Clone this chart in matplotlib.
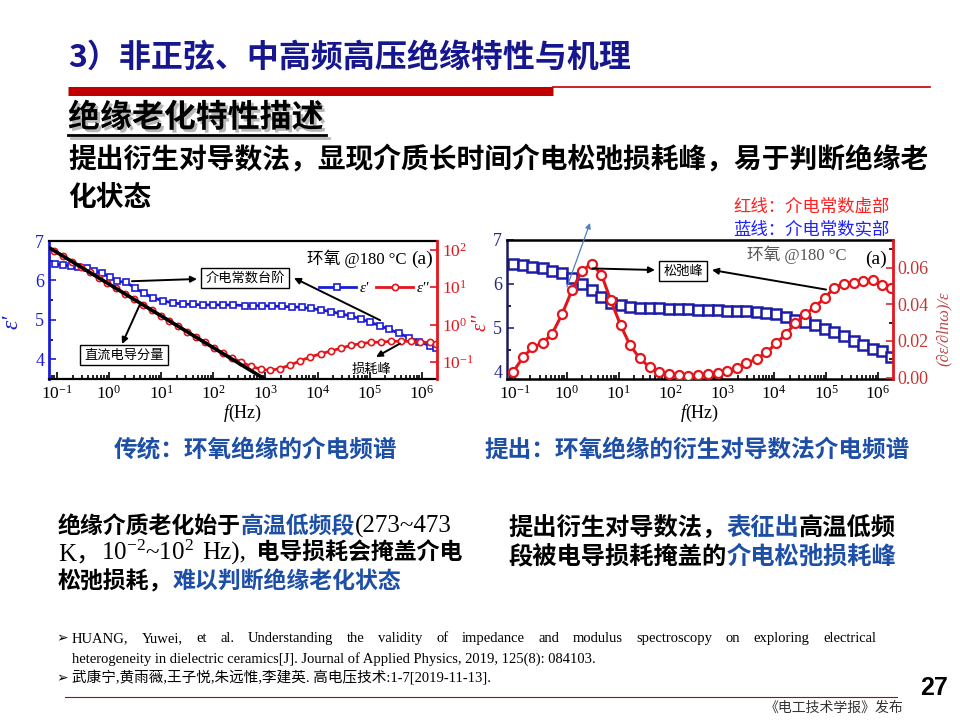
import numpy as np
import matplotlib
matplotlib.use('Agg')
import matplotlib.pyplot as plt
import matplotlib.patheffects as pe
from matplotlib.lines import Line2D
from matplotlib.ticker import (LogLocator, AutoMinorLocator, FormatStrFormatter, NullFormatter,
                               MultipleLocator, FixedLocator)

plt.rcParams['font.family'] = ['Liberation Serif', 'Noto Sans CJK SC']
plt.rcParams['mathtext.fontset'] = 'custom'
plt.rcParams['mathtext.rm'] = 'Liberation Serif'
plt.rcParams['mathtext.it'] = 'Liberation Serif:italic'
plt.rcParams['mathtext.bf'] = 'Liberation Serif:bold'

# ---- left chart: classic dielectric spectrum (log10 of f in Hz) ----
lg_f_re_a = [-1.03, -0.88, -0.72, -0.59, -0.43, -0.28, -0.14, 0.02, 0.16, 0.33, 0.50,
             0.67, 0.85, 1.04, 1.23, 1.41, 1.62, 1.81, 2.00, 2.19, 2.38, 2.60, 2.77,
             2.94, 3.12, 3.31, 3.50, 3.70, 3.87, 4.07, 4.26, 4.45, 4.64, 4.83, 5.01,
             5.20, 5.37, 5.56, 5.75, 5.95, 6.16, 6.28]
eps_re_a = [6.41, 6.39, 6.37, 6.33, 6.31, 6.24, 6.18, 6.09, 5.98, 5.95, 5.81, 5.67,
            5.56, 5.48, 5.43, 5.40, 5.39, 5.38, 5.38, 5.38, 5.38, 5.36, 5.36, 5.36,
            5.35, 5.34, 5.33, 5.32, 5.29, 5.25, 5.21, 5.15, 5.10, 5.02, 4.94, 4.85,
            4.76, 4.66, 4.55, 4.45, 4.34, 4.29]
lg_f_im_a = [-1.05, -0.88, -0.71, -0.54, -0.37, -0.20, -0.03, 0.14, 0.31, 0.48, 0.65,
             0.82, 0.99, 1.16, 1.33, 1.50, 1.67, 1.84, 2.01, 2.18, 2.35, 2.53, 2.72,
             2.92, 3.09, 3.28, 3.47, 3.66, 3.86, 4.07, 4.26, 4.45, 4.64, 4.83, 5.02,
             5.22, 5.41, 5.60, 5.79, 5.96, 6.16, 6.28]
eps_im_a = [95.5, 67.6, 49.0, 34.7, 25.1, 17.8, 12.9, 9.33, 6.61, 4.79, 3.39, 2.45,
            1.74, 1.26, 0.891, 0.646, 0.457, 0.331, 0.234, 0.170, 0.129, 0.100, 0.0759,
            0.0631, 0.0589, 0.0661, 0.0813, 0.105, 0.135, 0.166, 0.195, 0.234, 0.275,
            0.309, 0.331, 0.339, 0.355, 0.355, 0.355, 0.339, 0.331, 0.309]
dc_lg_f = [-1.18, 3.02]
dc_eps = [123.0, 0.0324]

# ---- right chart: derivative method ----
lg_f_b = [-1.03, -0.84, -0.66, -0.46, -0.28, -0.09, 0.10, 0.29, 0.48, 0.67, 0.85, 1.04,
          1.22, 1.41, 1.60, 1.78, 1.97, 2.16, 2.34, 2.53, 2.72, 2.91, 3.09, 3.28, 3.46,
          3.66, 3.85, 4.04, 4.22, 4.41, 4.60, 4.78, 4.97, 5.15, 5.34, 5.53, 5.72, 5.90,
          6.08, 6.25]
eps_re_b = [6.45, 6.43, 6.39, 6.36, 6.30, 6.24, 6.13, 5.99, 5.85, 5.71, 5.57, 5.52,
            5.48, 5.46, 5.45, 5.44, 5.43, 5.43, 5.43, 5.41, 5.41, 5.40, 5.39, 5.38,
            5.37, 5.35, 5.33, 5.31, 5.25, 5.18, 5.12, 5.06, 4.97, 4.90, 4.80, 4.70,
            4.61, 4.51, 4.46, 4.34]
eps_der_b = [0.0033, 0.0111, 0.0165, 0.0189, 0.0240, 0.0345, 0.0475, 0.0580, 0.0622,
             0.0562, 0.0422, 0.0286, 0.0178, 0.0105, 0.0057, 0.0033, 0.0020, 0.0015,
             0.0011, 0.0015, 0.0018, 0.0027, 0.0036, 0.0051, 0.0078, 0.0102, 0.0138,
             0.0187, 0.0238, 0.0296, 0.0346, 0.0386, 0.0432, 0.0489, 0.0513, 0.0516,
             0.0526, 0.0531, 0.0504, 0.0486]

decades = [1e-1, 1e0, 1e1, 1e2, 1e3, 1e4, 1e5, 1e6]

W, H = 960, 720
CJK = ['Noto Sans CJK SC', 'DejaVu Sans']
SERIF = ['Liberation Serif', 'Noto Sans CJK SC']
BLUE = '#1c1cd8'
RED = '#e3161c'
NAVY_T = '#16168f'
CAP_BLUE = '#1d4fa6'

fig = plt.figure(figsize=(9.6, 7.2), dpi=100)
R = fig.canvas.get_renderer()


def fp(x, y):
    return x / W, 1 - y / H


def run_line(x, y, parts):
    # parts: (text, colour, family, weight, size); y is the baseline in px
    for s, c, fam, wt, sz in parts:
        t = fig.text(*fp(x, y), s, color=c, family=fam, weight=wt, fontsize=sz,
                     va='baseline', ha='left')
        x += t.get_window_extent(R).width
    return x


def justify(words, x0, x1, y, size, fam):
    ts = [fig.text(0, 0, w, fontsize=size, family=fam, va='baseline', ha='left') for w in words]
    ws = [t.get_window_extent(R).width for t in ts]
    gap = (x1 - x0 - sum(ws)) / (len(ws) - 1)
    x = x0
    for t, w in zip(ts, ws):
        t.set_position(fp(x, y))
        x += w + gap


def arrow(ax, tail, head_px, color='black', lw=1.4, style='-|>', ms=9):
    ax.annotate('', xy=fp(*head_px), xycoords='figure fraction', xytext=tail,
                textcoords='data', annotation_clip=False,
                arrowprops=dict(arrowstyle=style, color=color, lw=lw, mutation_scale=ms,
                                shrinkA=0, shrinkB=0))


def box(x, y, s):
    fig.text(*fp(x, y), s, family=CJK, fontsize=9.5, ha='center', va='center',
             bbox=dict(boxstyle='square,pad=0.3', fc='white', ec='black', lw=1))


def style_log_x(ax):
    ax.set_xscale('log')
    ax.xaxis.set_major_locator(FixedLocator(decades))
    ax.xaxis.set_minor_locator(LogLocator(base=10, subs=np.arange(2, 10), numticks=20))
    ax.xaxis.set_minor_formatter(NullFormatter())
    ax.set_xlim(10 ** -1.15, 10 ** 6.29)
    ax.tick_params(axis='x', labelsize=12.5, pad=4)
    ax.set_xlabel('$f$(Hz)', fontsize=13, labelpad=0)


def ticks(*axes):
    for a in axes:
        a.tick_params(which='both', direction='in', width=1.2)
        a.tick_params(which='major', length=5)
        a.tick_params(which='minor', length=3)


# ================= slide text =================
fig.text(*fp(68, 58), '3）非正弦、中高频高压绝缘特性与机理', family=CJK, weight='bold',
         fontsize=23, color=NAVY_T, va='center', ha='left')
fig.add_artist(Line2D([553 / W, 930 / W], [1 - 86.5 / H] * 2, color='#c00000', lw=1.2))
fig.add_artist(Line2D([68 / W, 553 / W], [1 - 91 / H] * 2, color='#c00000', lw=6.5,
                      solid_capstyle='butt'))

shadow = [pe.SimplePatchShadow(offset=(2, -2), shadow_rgbFace='#888888', alpha=0.6), pe.Normal()]
fig.text(*fp(68, 118), '绝缘老化特性描述', family=CJK, weight='bold', fontsize=23,
         color='black', va='center', ha='left', path_effects=shadow)
fig.add_artist(Line2D([68 / W, 326 / W], [1 - 135 / H] * 2, color='black', lw=2,
                      path_effects=[pe.SimpleLineShadow(offset=(2, -2), shadow_color='#888888', alpha=0.6),
                                    pe.Normal()]))

fig.text(*fp(68, 160), '提出衍生对导数法，显现介质长时间介电松弛损耗峰，易于判断绝缘老',
         family=CJK, weight='bold', fontsize=20, va='center', ha='left')
fig.text(*fp(68, 198), '化状态', family=CJK, weight='bold', fontsize=20, va='center', ha='left')

fig.text(*fp(890, 207), '红线：介电常数虚部', family=CJK, fontsize=12.5, color='#ff2020',
         va='center', ha='right')
fig.text(*fp(890, 229), '蓝线：介电常数实部', family=CJK, fontsize=12.5, color='#1f1fff',
         va='center', ha='right')

fig.text(*fp(255, 450), '传统：环氧绝缘的介电频谱', family=CJK, weight='bold', fontsize=17,
         color=CAP_BLUE, va='center', ha='center')
fig.text(*fp(697, 450), '提出：环氧绝缘的衍生对导数法介电频谱', family=CJK, weight='bold',
         fontsize=17, color=CAP_BLUE, va='center', ha='center')

# left paragraph
P = 16.5
run_line(58, 533, [('绝缘介质老化始于', 'black', CJK, 'bold', P),
                   ('高温低频段', CAP_BLUE, CJK, 'bold', P),
                   ('(273~473', 'black', SERIF, 'normal', 18)])
x = run_line(58, 560, [('K，', 'black', SERIF, 'normal', 18),
                       (r'$\mathrm{10^{-2}}$~$\mathrm{10^{2}}$', 'black', SERIF, 'normal', 18)])
run_line(x + 8, 560, [('Hz),', 'black', SERIF, 'normal', 18),
                      ('  电导损耗会掩盖介电', 'black', CJK, 'bold', P)])
run_line(58, 588, [('松弛损耗，', 'black', CJK, 'bold', P),
                   ('难以判断绝缘老化状态', CAP_BLUE, CJK, 'bold', P)])

# right paragraph
Q = 17.5
run_line(508, 536, [('提出衍生对导数法，', 'black', CJK, 'bold', Q),
                    ('表征出', CAP_BLUE, CJK, 'bold', Q),
                    ('高温低频', 'black', CJK, 'bold', Q)])
run_line(508, 564, [('段被电导损耗掩盖的', 'black', CJK, 'bold', Q),
                    ('介电松弛损耗峰', CAP_BLUE, CJK, 'bold', Q)])

# references
fig.text(*fp(56, 638), '➢', family=['DejaVu Sans'], fontsize=10, va='center', ha='left')
fig.text(*fp(56, 678), '➢', family=['DejaVu Sans'], fontsize=10, va='center', ha='left')
justify('HUANG, Yuwei, et al. Understanding the validity of impedance and modulus '
        'spectroscopy on exploring electrical'.split(), 72, 876, 642, 10.5, SERIF)
fig.text(*fp(72, 663), 'heterogeneity in dielectric ceramics[J]. Journal of Applied Physics, '
         '2019, 125(8): 084103.', family=SERIF, fontsize=10.5, va='baseline', ha='left')
fig.text(*fp(72, 682), '武康宁,黄雨薇,王子悦,朱远惟,李建英. 高电压技术:1-7[2019-11-13].',
         family=SERIF, fontsize=10.5, va='baseline', ha='left')

fig.add_artist(Line2D([65 / W, 897 / W], [1 - 697 / H] * 2, color='#c00000', lw=0.8))
fig.text(*fp(948, 688), '27', family=['Liberation Sans'], weight='bold', fontsize=18,
         va='center', ha='right')
fig.text(*fp(903, 708), '《电工技术学报》发布', family=CJK, fontsize=10, color='#333333',
         va='center', ha='right')

# ================= left chart =================
axL = fig.add_axes([49 / W, 1 - 379 / H, 388 / W, 138 / H])
axL.plot(10 ** np.array(lg_f_re_a), eps_re_a, '-s', color=BLUE, lw=2, ms=4.5,
         mfc='white', mew=1.2, label="ε'")
style_log_x(axL)
axL.set_ylim(3.5, 7)
axL.yaxis.set_major_locator(MultipleLocator(1))
axL.yaxis.set_minor_locator(AutoMinorLocator(2))
axL.tick_params(axis='y', colors=BLUE, labelsize=13)

axL2 = axL.twinx()
axL2.plot(10 ** np.array(lg_f_im_a), eps_im_a, '-o', color=RED, lw=2, ms=4.5,
          mfc='white', mew=1.2, label="ε''")
axL2.plot(10 ** np.array(dc_lg_f), dc_eps, color='black', lw=2.6, solid_capstyle='butt')
axL2.set_yscale('log')
axL2.set_ylim(10 ** -1.46, 10 ** 2.24)
axL2.yaxis.set_major_locator(FixedLocator([1e-1, 1e0, 1e1, 1e2]))
axL2.tick_params(axis='y', colors=RED, labelsize=12.5)
ticks(axL, axL2)

for s in ('top', 'bottom'):
    axL.spines[s].set_linewidth(1.6)
    axL2.spines[s].set_visible(False)
axL.spines['left'].set_color(BLUE)
axL.spines['left'].set_linewidth(2)
axL.spines['right'].set_visible(False)
axL2.spines['left'].set_visible(False)
axL2.spines['right'].set_color(RED)
axL2.spines['right'].set_linewidth(2)

h1, l1 = axL.get_legend_handles_labels()
h2, l2 = axL2.get_legend_handles_labels()
axL2.legend(h1 + h2, l1 + l2, loc='upper right', bbox_to_anchor=(1.0, 0.76), ncol=2,
            frameon=False, handlelength=2.4, handletextpad=0.25, columnspacing=0.5,
            borderpad=0, prop=dict(family='Liberation Serif', style='italic', size=11))

fig.text(*fp(12, 322), "ε'", color=BLUE, fontsize=17, style='italic', rotation=90,
         va='center', ha='center')
fig.text(*fp(481, 322), "ε''", color=RED, fontsize=15, style='italic', rotation=90,
         va='center', ha='center')
fig.text(*fp(307, 259), '环氧 @180 °C', family=SERIF, fontsize=12, va='center', ha='left')
fig.text(*fp(433, 259), '(a)', family=SERIF, fontsize=14, va='center', ha='right')

box(245, 278, '介电常数台阶')
arrow(axL, (10 ** 0.44, 5.98), (197, 279))
arrow(axL, (10 ** 5.2, 4.99), (294, 278))
box(124, 355, '直流电导分量')
arrow(axL2, (10 ** 0.6, 10 ** 0.56), (122, 344))
fig.text(*fp(371, 369), '损耗峰', family=CJK, fontsize=9.5, va='center', ha='center')
arrow(axL2, (10 ** 5.58, 10 ** -0.51), (376, 357))

# ================= right chart =================
axR = fig.add_axes([507 / W, 1 - 379 / H, 386 / W, 139 / H])
axR.plot(10 ** np.array(lg_f_b), eps_re_b, 's', color='#1c1ca8', ms=6.5, mfc='white', mew=1.8)
style_log_x(axR)
axR.set_ylim(3.83, 7)
axR.yaxis.set_major_locator(MultipleLocator(1))
axR.yaxis.set_minor_locator(AutoMinorLocator(2))
axR.tick_params(axis='y', colors='#24248a', labelsize=13)

axR2 = axR.twinx()
axR2.plot(10 ** np.array(lg_f_b), eps_der_b, '-o', color=RED, lw=2.2, ms=6.5,
          mfc='white', mew=1.6)
axR2.set_ylim(-0.0007, 0.075)
axR2.yaxis.set_major_locator(FixedLocator([0.0, 0.02, 0.04, 0.06]))
axR2.yaxis.set_minor_locator(MultipleLocator(0.01))
axR2.yaxis.set_major_formatter(FormatStrFormatter('%.2f'))
axR2.tick_params(axis='y', colors='#c43434', labelsize=13)
ticks(axR, axR2)

for s in ('top', 'bottom'):
    axR.spines[s].set_linewidth(1.8)
    axR2.spines[s].set_visible(False)
axR.spines['left'].set_color('#1a1a5e')
axR.spines['left'].set_linewidth(1.8)
axR.spines['right'].set_visible(False)
axR2.spines['left'].set_visible(False)
axR2.spines['right'].set_color(RED)
axR2.spines['right'].set_linewidth(2)

fig.text(*fp(944, 329), '(∂ε/∂lnω)/ε', color='#c04848', fontsize=12, style='italic',
         rotation=90, va='center', ha='center')
fig.text(*fp(747, 255), '环氧 @180 °C', family=SERIF, fontsize=12, color='#555555',
         va='center', ha='left')
fig.text(*fp(887, 259), '(a)', family=SERIF, fontsize=14, va='center', ha='right')

box(683, 271, '松弛峰')
arrow(axR2, (10 ** 0.5, 0.0595), (655, 270))
arrow(axR2, (10 ** 5.0, 0.048), (712, 270))
axR.annotate('', xy=fp(590, 223), xycoords='figure fraction', xytext=fp(567, 287),
             textcoords='figure fraction', annotation_clip=False,
             arrowprops=dict(arrowstyle='-|>', color='#4f81bd', lw=0.9, mutation_scale=8,
                             shrinkA=0, shrinkB=0))

fig.savefig('out.png', dpi=100)
